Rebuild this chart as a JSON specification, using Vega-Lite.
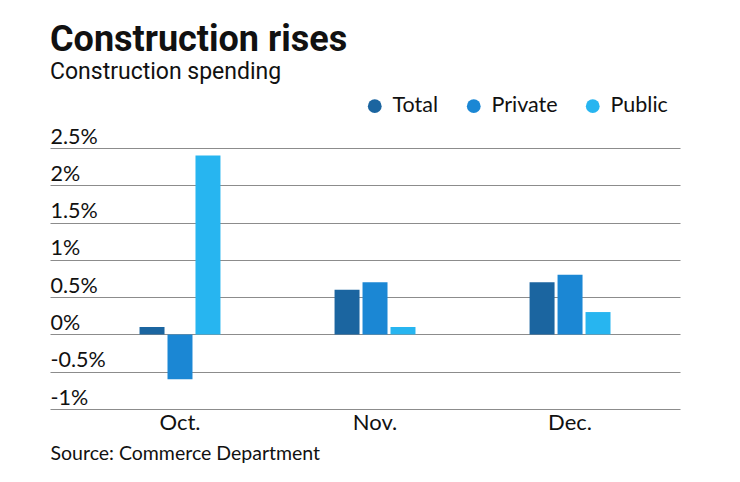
{
  "$schema": "https://vega.github.io/schema/vega-lite/v6.json",
  "width": 630,
  "height": 261,
  "autosize": "none",
  "padding": {"left": 50, "top": 148, "right": 60, "bottom": 73},
  "background": "white",
  "title": {
    "text": "Construction rises",
    "subtitle": "Construction spending",
    "anchor": "start",
    "frame": "group",
    "orient": "top",
    "offset": 10,
    "font": "Roboto",
    "fontSize": 36,
    "fontWeight": "bold",
    "color": "#111111",
    "subtitleFont": "Roboto",
    "subtitleFontSize": 23,
    "subtitleColor": "#111111",
    "subtitlePadding": 2
  },
  "data": {
    "values": [
      {"month": "Oct.", "series": "Total", "value": 0.1},
      {"month": "Oct.", "series": "Private", "value": -0.6},
      {"month": "Oct.", "series": "Public", "value": 2.4},
      {"month": "Nov.", "series": "Total", "value": 0.6},
      {"month": "Nov.", "series": "Private", "value": 0.7},
      {"month": "Nov.", "series": "Public", "value": 0.1},
      {"month": "Dec.", "series": "Total", "value": 0.7},
      {"month": "Dec.", "series": "Private", "value": 0.8},
      {"month": "Dec.", "series": "Public", "value": 0.3}
    ]
  },
  "mark": {"type": "bar"},
  "encoding": {
    "x": {
      "field": "month",
      "type": "nominal",
      "sort": ["Oct.", "Nov.", "Dec."],
      "scale": {"paddingInner": 0.585, "paddingOuter": 0.4077, "align": 0.563},
      "axis": {
        "title": "Source: Commerce Department",
        "titleFont": "Lato",
        "titleFontSize": 19.5,
        "titleFontWeight": "normal",
        "titleColor": "#111111",
        "titleAnchor": "start",
        "titleAlign": "left",
        "titleX": 0,
        "titleY": 35,
        "labelAngle": 0,
        "labelFont": "Lato",
        "labelFontSize": 22,
        "labelColor": "#111111",
        "labelPadding": 3,
        "ticks": false,
        "domain": false
      }
    },
    "xOffset": {
      "field": "series",
      "type": "nominal",
      "sort": ["Total", "Private", "Public"],
      "scale": {"paddingInner": 0.107, "paddingOuter": 0}
    },
    "y": {
      "field": "value",
      "type": "quantitative",
      "scale": {"domain": [-1, 2.5], "nice": false, "zero": false},
      "axis": {
        "title": null,
        "values": [-1, -0.5, 0, 0.5, 1, 1.5, 2, 2.5],
        "labelExpr": "datum.value + '%'",
        "labelAlign": "left",
        "labelBaseline": "alphabetic",
        "labelPadding": 0,
        "labelOffset": -5,
        "labelFont": "Lato",
        "labelFontSize": 21.5,
        "labelColor": "#111111",
        "ticks": false,
        "domain": false,
        "grid": true,
        "gridColor": "#8c8c8c",
        "gridWidth": 1.2
      }
    },
    "color": {
      "field": "series",
      "type": "nominal",
      "scale": {
        "domain": ["Total", "Private", "Public"],
        "range": ["#1b65a0", "#1b87d4", "#27b5f0"]
      },
      "legend": {
        "title": null,
        "orient": "none",
        "direction": "horizontal",
        "legendX": 314,
        "legendY": -53,
        "symbolType": "circle",
        "symbolSize": 190,
        "symbolStrokeWidth": 0,
        "labelFont": "Lato",
        "labelFontSize": 21.5,
        "labelColor": "#111111",
        "labelOffset": 7,
        "columnPadding": 24
      }
    }
  },
  "config": {"view": {"stroke": null}}
}
